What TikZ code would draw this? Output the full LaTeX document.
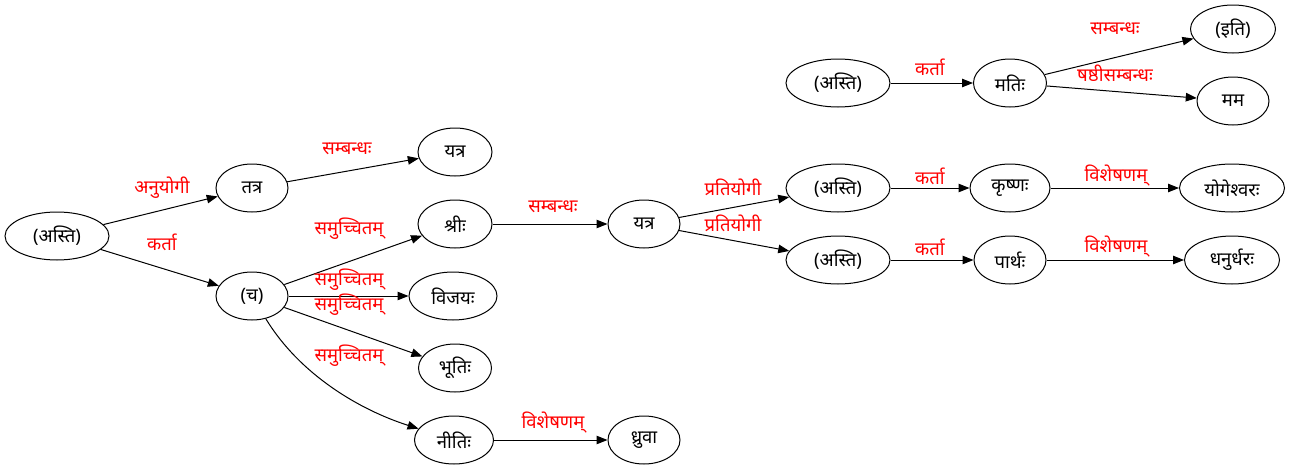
\documentclass[tikz,border=0pt]{standalone}
\usepackage{fontspec}
\newfontfamily\deva[Script=Devanagari]{Noto Sans}
\usetikzlibrary{shapes.geometric,arrows.meta}
\tikzset{
  nd/.style={draw, ellipse, inner sep=0pt, minimum height=48pt, font=\deva\fontsize{18.5}{20}\selectfont, line width=1pt},
  lab/.style={text=red, font=\deva\fontsize{18.5}{20}\selectfont, inner sep=0pt},
  edge/.style={draw, line width=1pt, -{Triangle[length=11pt,width=8.5pt]}}
}
\begin{document}
\begin{tikzpicture}[x=1pt,y=-1pt]
\useasboundingbox[fill=white] (0,0) rectangle (1291,469);
% nodes
\node[nd, minimum width=104pt] (asti1) at (57,236) {(अस्ति)};
\node[nd, minimum width=72pt] (tatra) at (252,188) {तत्र};
\node[nd, minimum width=74pt] (yatra1) at (455,152) {यत्र};
\node[nd, minimum width=72pt] (ca) at (252,296) {(च)};
\node[nd, minimum width=74pt] (shri) at (455,224) {श्रीः};
\node[nd, minimum width=88pt] (vijaya) at (453,296) {विजयः};
\node[nd, minimum width=73pt] (bhuti) at (455,368) {भूतिः};
\node[nd, minimum width=79pt] (niti) at (454,440) {नीतिः};
\node[nd, minimum width=72pt] (dhruva) at (644,440) {ध्रुवा};
\node[nd, minimum width=72pt] (yatra2) at (644,224) {यत्र};
\node[nd, minimum width=104pt] (asti2) at (838,188) {(अस्ति)};
\node[nd, minimum width=80pt] (krishna) at (1010,188) {कृष्णः};
\node[nd, minimum width=105pt] (yoga) at (1232,188) {योगेश्वरः};
\node[nd, minimum width=104pt] (asti3) at (838,260) {(अस्ति)};
\node[nd, minimum width=72pt] (partha) at (1010,260) {पार्थः};
\node[nd, minimum width=95pt] (dhanu) at (1232,260) {धनुर्धरः};
\node[nd, minimum width=104pt] (asti4) at (838,83) {(अस्ति)};
\node[nd, minimum width=73pt] (mati) at (1010,83) {मतिः};
\node[nd, minimum width=85pt] (iti) at (1233,29) {(इति)};
\node[nd, minimum width=72pt] (mama) at (1233,101) {मम};
% edges
\draw[edge] (asti1) -- (tatra);
\draw[edge] (asti1) -- (ca);
\draw[edge] (tatra) -- (yatra1);
\draw[edge] (ca) -- (shri);
\draw[edge] (ca) -- (vijaya);
\draw[edge] (ca) -- (bhuti);
\draw[edge] (ca) .. controls (300,375) and (360,410) .. (niti);
\draw[edge] (niti) -- (dhruva);
\draw[edge] (shri) -- (yatra2);
\draw[edge] (yatra2) -- (asti2);
\draw[edge] (yatra2) -- (asti3);
\draw[edge] (asti2) -- (krishna);
\draw[edge] (krishna) -- (yoga);
\draw[edge] (asti3) -- (partha);
\draw[edge] (partha) -- (dhanu);
\draw[edge] (asti4) -- (mati);
\draw[edge] (mati) -- (iti);
\draw[edge] (mati) -- (mama);
% labels
\node[lab] (l1) at (162,188) {अनुयोगी};
\node[lab] (l2) at (162,242) {कर्ता};
\node[lab] (l3) at (347,149) {सम्बन्धः};
\node[lab] (l4) at (349,229) {समुच्चितम्};
\node[lab] (l5) at (349,280) {समुच्चितम्};
\node[lab] (l6) at (349,305) {समुच्चितम्};
\node[lab] (l7) at (349,356) {समुच्चितम्};
\node[lab] (l8) at (553,423) {विशेषणम्};
\node[lab] (l9) at (553,207) {सम्बन्धः};
\node[lab] (l10) at (733,187) {प्रतियोगी};
\node[lab] (l11) at (733,223) {प्रतियोगी};
\node[lab] (l12) at (930,176) {कर्ता};
\node[lab] (l13) at (1116,176) {विशेषणम्};
\node[lab] (l14) at (930,247) {कर्ता};
\node[lab] (l15) at (1116,247) {विशेषणम्};
\node[lab] (l16) at (930,67) {कर्ता};
\node[lab] (l17) at (1115,29) {सम्बन्धः};
\node[lab] (l18) at (1115,73) {षष्ठीसम्बन्धः};
\end{tikzpicture}
\end{document}
